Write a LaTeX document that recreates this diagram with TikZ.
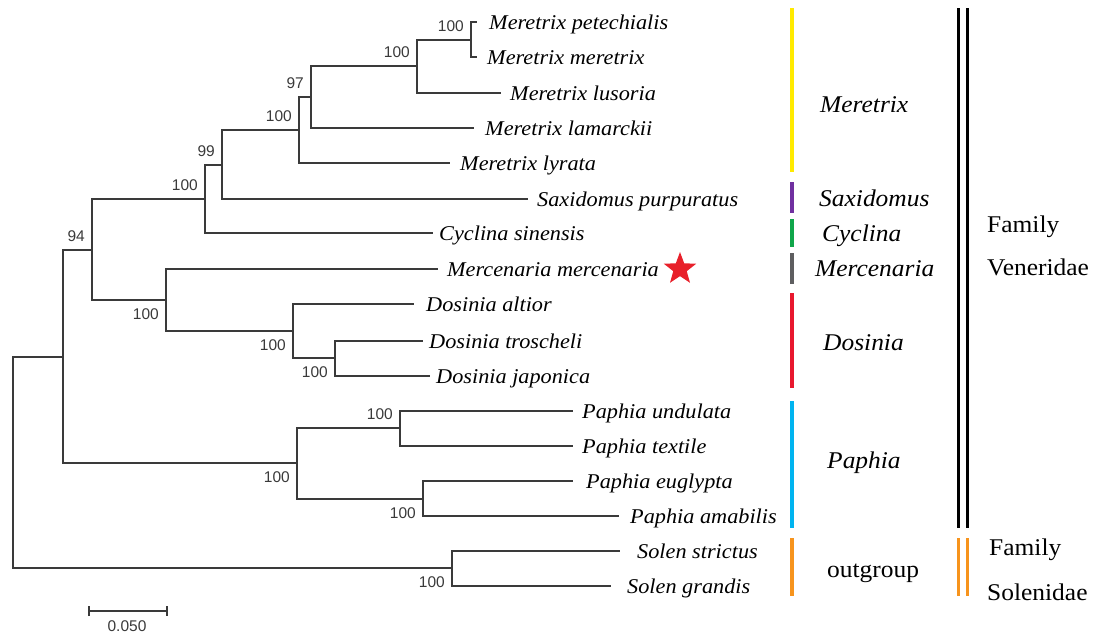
\documentclass[tikz,border=0pt]{standalone}
\usepackage{fontspec}
\setmainfont{Liberation Serif}[FakeStretch=1.06]
\setsansfont{Liberation Sans}
\usetikzlibrary{shapes.geometric,positioning,arrows.meta}

\definecolor{branchgray}{HTML}{3A3A3A}
\definecolor{barYellow}{HTML}{FFEA00}
\definecolor{barPurple}{HTML}{7030A0}
\definecolor{barGreen}{HTML}{10A64A}
\definecolor{barGray}{HTML}{5E5E60}
\definecolor{barRed}{HTML}{E8182E}
\definecolor{barBlue}{HTML}{00B4F0}
\definecolor{barOrange}{HTML}{F7941D}
\definecolor{starred}{HTML}{E8202A}

\tikzset{
  branch/.style={draw=branchgray, line width=1.7pt, line cap=rect},
  elbow/.style={to path={|- (\tikztotarget)}},
  taxon/.style={anchor=base west, inner sep=0pt, yshift=-7pt,
    font=\fontsize{21}{24}\selectfont\itshape},
  bootnum/.style={inner sep=0pt, text=branchgray,
    font=\sffamily\fontsize{15.5}{18}\selectfont},
  boot above/.style={bootnum, anchor=east, xshift=-7pt, yshift=14pt},
  boot below/.style={bootnum, anchor=east, xshift=-7pt, yshift=-14.5pt},
  genus/.style={anchor=base west, inner sep=0pt, font=\fontsize{24}{28}\selectfont\itshape},
  family/.style={anchor=base west, inner sep=0pt, font=\fontsize{24}{28}\selectfont},
  cladebar/.style={line width=4pt},
  famline/.style={line width=3pt},
}

\begin{document}
\begin{tikzpicture}[x=1pt, y=-1pt]
  \useasboundingbox (0,0) rectangle (1094,633);

  % tips
  \coordinate (t1)  at (476,22);
  \coordinate (t2)  at (476,57);
  \coordinate (t3)  at (500,93);
  \coordinate (t4)  at (473,128);
  \coordinate (t5)  at (449,163);
  \coordinate (t6)  at (527,199);
  \coordinate (t7)  at (432,233);
  \coordinate (t8)  at (437,269);
  \coordinate (t9)  at (413,304);
  \coordinate (t10) at (422,341);
  \coordinate (t11) at (429,376);
  \coordinate (t12) at (572,411);
  \coordinate (t13) at (572,446);
  \coordinate (t14) at (572,481);
  \coordinate (t15) at (618,516);
  \coordinate (t16) at (619,551);
  \coordinate (t17) at (610,586);

  % internal nodes
  \coordinate (n1)   at (471,40);
  \coordinate (n2)   at (417,66);
  \coordinate (n3)   at (311,97);
  \coordinate (n4)   at (299,130);
  \coordinate (n5)   at (222,165);
  \coordinate (n6)   at (205,199);
  \coordinate (n7)   at (335,358);
  \coordinate (n8)   at (293,331);
  \coordinate (n9)   at (166,300);
  \coordinate (n10)  at (92,250);
  \coordinate (n11)  at (400,428);
  \coordinate (n12)  at (423,499);
  \coordinate (n13)  at (297,463);
  \coordinate (n14)  at (63,357);
  \coordinate (n15)  at (452,568);
  \coordinate (root) at (13,462);

  \path[branch]
    (n1) edge[elbow] (t1)  (n1) edge[elbow] (t2)
    (n2) edge[elbow] (n1)  (n2) edge[elbow] (t3)
    (n3) edge[elbow] (n2)  (n3) edge[elbow] (t4)
    (n4) edge[elbow] (n3)  (n4) edge[elbow] (t5)
    (n5) edge[elbow] (n4)  (n5) edge[elbow] (t6)
    (n6) edge[elbow] (n5)  (n6) edge[elbow] (t7)
    (n7) edge[elbow] (t10) (n7) edge[elbow] (t11)
    (n8) edge[elbow] (t9)  (n8) edge[elbow] (n7)
    (n9) edge[elbow] (t8)  (n9) edge[elbow] (n8)
    (n10) edge[elbow] (n6) (n10) edge[elbow] (n9)
    (n11) edge[elbow] (t12) (n11) edge[elbow] (t13)
    (n12) edge[elbow] (t14) (n12) edge[elbow] (t15)
    (n13) edge[elbow] (n11) (n13) edge[elbow] (n12)
    (n14) edge[elbow] (n10) (n14) edge[elbow] (n13)
    (n15) edge[elbow] (t16) (n15) edge[elbow] (t17)
    (root) edge[elbow] (n14) (root) edge[elbow] (n15);

  % taxon names
  \node[right=13pt of t1, taxon]  (Mpet) {Meretrix petechialis};
  \node[right=11pt of t2, taxon]  (Mmer) {Meretrix meretrix};
  \node[right=10pt of t3, taxon]  (Mlus) {Meretrix lusoria};
  \node[right=12pt of t4, taxon]  (Mlam) {Meretrix lamarckii};
  \node[right=11pt of t5, taxon]  (Mlyr) {Meretrix lyrata};
  \node[right=10pt of t6, taxon]  (Spur) {Saxidomus purpuratus};
  \node[right=7pt of t7, taxon]   (Csin) {Cyclina sinensis};
  \node[right=10pt of t8, taxon]  (Mmrc) {Mercenaria mercenaria};
  \node[right=13pt of t9, taxon]  (Dalt) {Dosinia altior};
  \node[right=7pt of t10, taxon]  (Dtro) {Dosinia troscheli};
  \node[right=7pt of t11, taxon]  (Djap) {Dosinia japonica};
  \node[right=10pt of t12, taxon] (Pund) {Paphia undulata};
  \node[right=10pt of t13, taxon] (Ptex) {Paphia textile};
  \node[right=14pt of t14, taxon] (Peug) {Paphia euglypta};
  \node[right=12pt of t15, taxon] (Pama) {Paphia amabilis};
  \node[right=18pt of t16, taxon] (Sstr) {Solen strictus};
  \node[right=17pt of t17, taxon] (Sgra) {Solen grandis};

  \node[star, star points=5, star point ratio=2.4, fill=starred,
        minimum size=34pt, inner sep=0pt] (redstar) at (680,269) {};

  % bootstrap values
  \node[boot above] (b1)  at (n1)  {100};
  \node[boot above] (b2)  at (n2)  {100};
  \node[boot above] (b3)  at (n3)  {97};
  \node[boot above] (b4)  at (n4)  {100};
  \node[boot above] (b5)  at (n5)  {99};
  \node[boot above] (b6)  at (n6)  {100};
  \node[boot above] (b10) at (n10) {94};
  \node[boot below] (b9)  at (n9)  {100};
  \node[boot below] (b8)  at (n8)  {100};
  \node[boot below] (b7)  at (n7)  {100};
  \node[boot above] (b11) at (n11) {100};
  \node[boot below] (b13) at (n13) {100};
  \node[boot below] (b12) at (n12) {100};
  \node[boot below] (b15) at (n15) {100};

  % scale bar
  \coordinate (sbL) at (88,611);
  \coordinate (sbR) at (168,611);
  \draw[branch, line cap=butt, {Bar[width=10pt]}-{Bar[width=10pt]}] (sbL) -- (sbR);
  \node[bootnum] (sblabel) at (127,626) {0.050};

  % genus bars
  \draw[cladebar, barYellow] (792,8)   -- (792,172);
  \draw[cladebar, barPurple] (792,182) -- (792,213);
  \draw[cladebar, barGreen]  (792,219) -- (792,247);
  \draw[cladebar, barGray]   (792,253) -- (792,284);
  \draw[cladebar, barRed]    (792,293) -- (792,388);
  \draw[cladebar, barBlue]   (792,401) -- (792,528);
  \draw[cladebar, barOrange] (792,538) -- (792,596);

  \node[genus] (gMer) at (820,112) {Meretrix};
  \node[genus] (gSax) at (819,206) {Saxidomus};
  \node[genus] (gCyc) at (822,241) {Cyclina};
  \node[genus] (gMrc) at (815,276) {Mercenaria};
  \node[genus] (gDos) at (823,350) {Dosinia};
  \node[genus] (gPap) at (827,468) {Paphia};
  \node[family] (gOut) at (827,577) {outgroup};

  % family bars
  \draw[famline] (958,8) -- (958,528);
  \draw[famline] (967,8) -- (967,528);
  \draw[famline, barOrange] (958,538) -- (958,596);
  \draw[famline, barOrange] (967,538) -- (967,596);

  \node[family] (fVen1) at (987,232) {Family};
  \node[family] (fVen2) at (987,275) {Veneridae};
  \node[family] (fSol1) at (989,555) {Family};
  \node[family] (fSol2) at (987,600) {Solenidae};
\end{tikzpicture}
\end{document}
